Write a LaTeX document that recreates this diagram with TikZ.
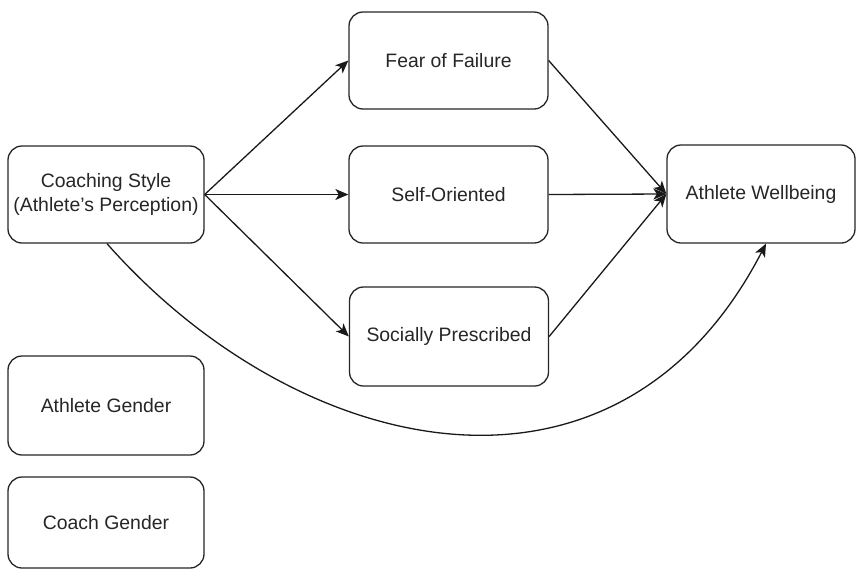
\documentclass[tikz,border=0pt]{standalone}
\usepackage{fontspec}
\setmainfont{Liberation Sans}
\usetikzlibrary{arrows.meta,calc}
\begin{document}
\begin{tikzpicture}[x=1pt,y=-1pt,
  box/.style={draw=black!85, line width=1.3pt, rounded corners=14pt, fill=white,
    align=center, font=\fontsize{19.4}{24}\selectfont, text=black!85,
    inner sep=0pt},
  conn/.style={draw=black!90, line width=1.3pt, -{Stealth[length=13pt,width=11pt,inset=3.5pt]}}
]
\useasboundingbox (0,0) rectangle (857,571);
\node[box, minimum width=196pt, minimum height=97pt] (coach) at (106,194.5) {Coaching Style\\(Athlete's Perception)};
\node[box, minimum width=199pt, minimum height=97pt] (fear) at (448.5,60.5) {Fear of Failure};
\node[box, minimum width=199pt, minimum height=97pt] (self) at (448.5,194.5) {Self-Oriented};
\node[box, minimum width=199pt, minimum height=99pt] (social) at (449,336.5) {Socially Prescribed};
\node[box, minimum width=188pt, minimum height=98pt] (well) at (761,194) {Athlete Wellbeing};
\node[box, minimum width=196pt, minimum height=99pt] (ag) at (106,405.5) {Athlete Gender};
\node[box, minimum width=196pt, minimum height=91pt] (cg) at (106,522.5) {Coach Gender};

\draw[conn] (coach.east) -- (fear.west);
\draw[conn] (coach.east) -- (self.west);
\draw[conn] (coach.east) -- (social.west);
\draw[conn] (fear.east) -- (well.west);
\draw[conn] (self.east) -- (well.west);
\draw[conn] (social.east) -- (well.west);
\coordinate (cs) at ($(coach.south)+(1,0)$);
\coordinate (we) at ($(well.south)+(5,0)$);
\coordinate (c1) at ($(cs)+(190,215)$);
\coordinate (c2) at ($(we)+(-150,290)$);
\draw[conn] (cs) .. controls (c1) and (c2) .. (we);
\end{tikzpicture}
\end{document}
